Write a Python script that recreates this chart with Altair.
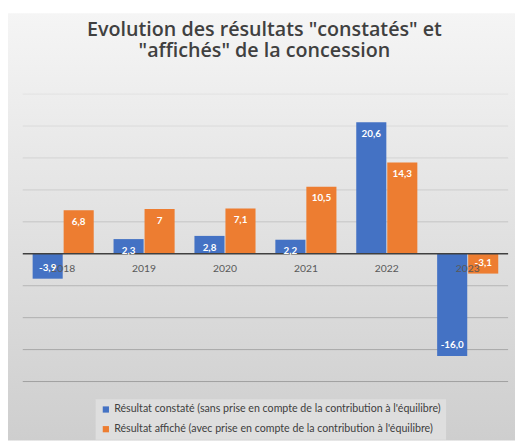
import altair as alt
import pandas as pd

years = ["2018", "2019", "2020", "2021", "2022", "2023"]
constate = [-3.9, 2.3, 2.8, 2.2, 20.6, -16.0]
affiche = [6.8, 7.0, 7.1, 10.5, 14.3, -3.1]
constate_labels = ["-3,9", "2,3", "2,8", "2,2", "20,6", "-16,0"]
affiche_labels = ["6,8", "7", "7,1", "10,5", "14,3", "-3,1"]
series = [
    "Résultat constaté (sans prise en compte de la contribution à l'équilibre)",
    "Résultat affiché (avec prise en compte de la contribution à l'équilibre)",
]
grid_values = [-20, -15, -10, -5, 5, 10, 15, 20, 25]
title_lines = ['Evolution des résultats "constatés" et', '"affichés" de la concession']
colors = ["#4472C4", "#ED7D31"]

rows = []
for i, yr in enumerate(years):
    rows.append({"year": yr, "series": series[0], "value": constate[i], "label": constate_labels[i]})
    rows.append({"year": yr, "series": series[1], "value": affiche[i], "label": affiche_labels[i]})
df = pd.DataFrame(rows)

W, H = 493, 292
yscale = alt.Scale(domain=[-20, 25], nice=False, zero=False)
xscale = alt.Scale(domain=years, paddingInner=0.245, paddingOuter=0.122)
X = alt.X("year:N", scale=xscale, axis=None, sort=years)
XO = alt.XOffset("series:N", sort=series, scale=alt.Scale(domain=series, paddingInner=0.03))
Y = alt.Y("value:Q", scale=yscale, axis=None)

bg = alt.Chart(pd.DataFrame({"a": [0]})).mark_rect(
    color=alt.LinearGradient(
        gradient="linear",
        stops=[alt.GradientStop(offset=0, color="#f5f5f5"), alt.GradientStop(offset=1, color="#cecece")],
        x1=0, x2=0, y1=0, y2=1,
    )
).encode(x=alt.value(-15), x2=alt.value(500), y=alt.value(-82), y2=alt.value(352))

title = alt.Chart(pd.DataFrame({"t": ["\n".join(title_lines)]})).mark_text(
    font="Open Sans", fontSize=20, fontWeight=600, color="#404040",
    align="center", baseline="alphabetic", lineBreak="\n", lineHeight=21,
).encode(x=alt.value(W / 2 - 1), y=alt.value(-59), text="t:N")

grid = alt.Chart(pd.DataFrame({"g": grid_values})).mark_rule(strokeWidth=1).encode(
    y=alt.Y("g:Q", scale=yscale, axis=None),
    stroke=alt.Stroke("g:Q", scale=alt.Scale(domain=[-20, 25], range=["#a0a0a0", "#e2e2e2"]), legend=None),
)

bars = alt.Chart(df).mark_bar().encode(
    x=X, xOffset=XO, y=Y,
    color=alt.Color(
        "series:N",
        scale=alt.Scale(domain=series, range=colors),
        legend=alt.Legend(
            title=None, orient="none", legendX=74, legendY=310, direction="vertical",
            fillColor="#dedede", padding=5, rowPadding=8, symbolType="square", symbolSize=40,
            labelFont="Lato", labelFontSize=10.8, labelColor="#404040", labelLimit=500,
            labelOffset=3, symbolStrokeWidth=0,
        ),
    ),
)

zero = alt.Chart(pd.DataFrame({"z": [0]})).mark_rule(color="#404040", strokeWidth=1.5).encode(
    y=alt.Y("z:Q", scale=yscale, axis=None)
)

year_labels = alt.Chart(pd.DataFrame({"year": years, "z": [0] * len(years)})).mark_text(
    dy=16, fontSize=10.5, color="#595959", font="Lato"
).encode(x=X, y=alt.Y("z:Q", scale=yscale, axis=None), text="year:N")

pos_labels = alt.Chart(df).transform_filter("datum.value > 0").mark_text(
    dy=12, font="Lato", fontWeight="bold", fontSize=10, color="white"
).encode(x=X, xOffset=XO, y=Y, text="label:N")

neg_labels = alt.Chart(df).transform_filter("datum.value < 0").mark_text(
    dy=-11, font="Lato", fontWeight="bold", fontSize=10, color="white"
).encode(x=X, xOffset=XO, y=Y, text="label:N")

chart = alt.layer(bg, title, grid, bars, zero, year_labels, pos_labels, neg_labels).properties(
    width=W, height=H,
    padding={"left": 0, "top": 2, "right": 0, "bottom": 0},
    background="white",
).configure_view(stroke=None)

chart.save("out.html", embed_options={"renderer": "svg", "actions": False})
